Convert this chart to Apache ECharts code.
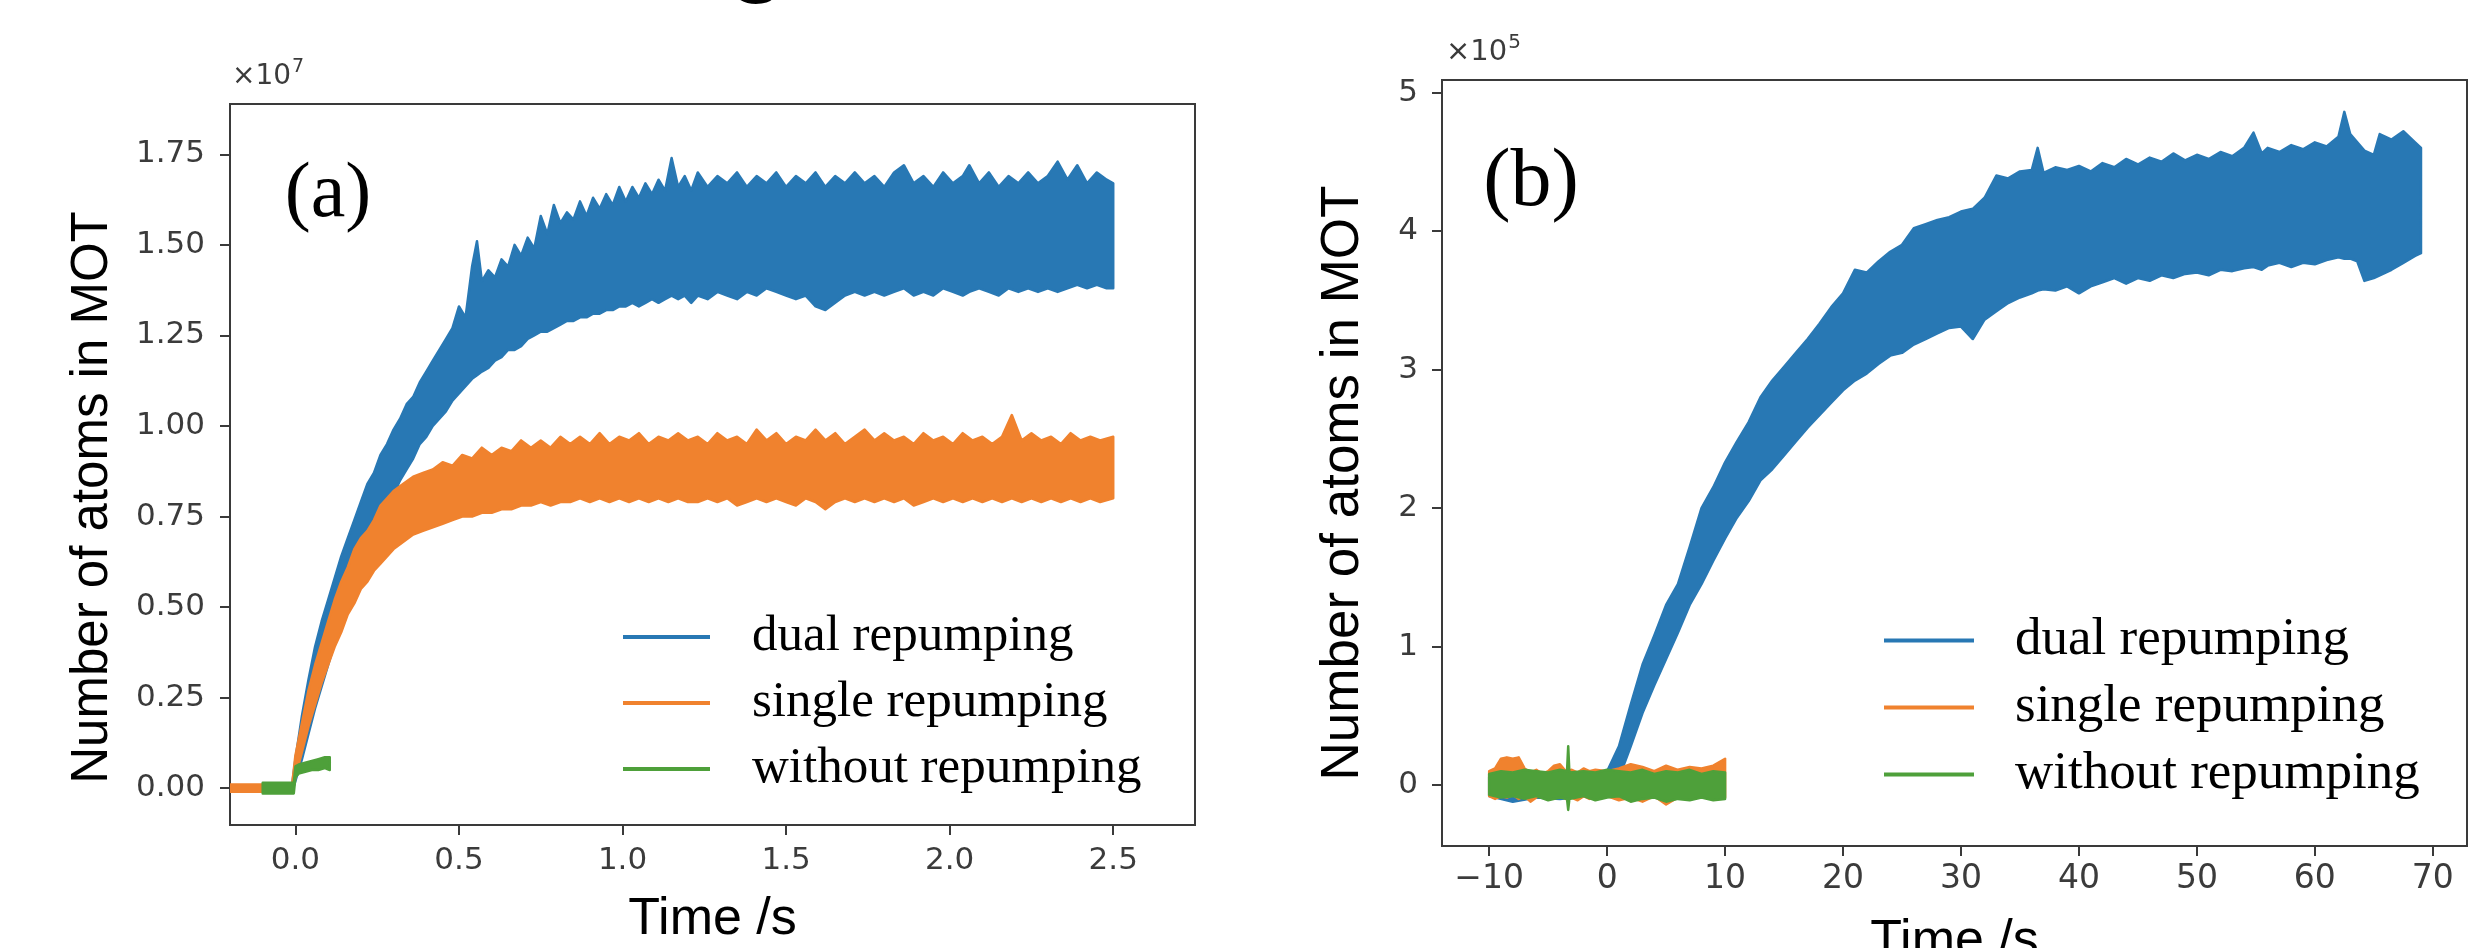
<!DOCTYPE html>
<html>
<head>
<meta charset="utf-8">
<script src="https://cdn.jsdelivr.net/npm/echarts@6/dist/echarts.min.js"></script>
<style>
html,body{margin:0;padding:0;background:#ffffff;}
#c{width:2490px;height:948px;}
</style>
</head>
<body>
<div id="c"></div>
<script>
// ---------- names ----------
const seriesNames = ['dual repumping', 'single repumping', 'without repumping'];

// ---------- tick values ----------
const xTicksA = [0, 0.5, 1.0, 1.5, 2.0, 2.5];
const yTicksA = [0, 0.25, 0.5, 0.75, 1.0, 1.25, 1.5, 1.75];
const xTicksB = [-10, 0, 10, 20, 30, 40, 50, 60, 70];
const yTicksB = [0, 1, 2, 3, 4, 5];

// ---------- panel (a): values in units of 1e7, time in s ----------
// dual repumping: band (lower / upper envelope of the noisy trace)
const tDualA  = [-0.10,-0.01,0.00,0.02,0.04,0.06,0.08,0.10,0.12,0.14,0.16,0.18,0.20,0.22,0.24,0.26,0.28,0.30,0.32,0.34,0.36,0.38,0.40,0.42,0.44,0.46,0.48,0.50,0.52,0.54,0.555,0.57,0.59,0.61,0.63,0.65,0.67,0.69,0.71,0.73,0.75,0.77,0.79,0.81,0.83,0.85,0.87,0.89,0.91,0.93,0.95,0.97,0.99,1.01,1.03,1.05,1.07,1.09,1.11,1.13,1.15,1.17,1.19,1.21,1.23,1.26,1.29,1.32,1.35,1.38,1.41,1.44,1.47,1.50,1.53,1.56,1.59,1.62,1.65,1.68,1.71,1.74,1.77,1.80,1.83,1.86,1.89,1.92,1.95,1.98,2.01,2.04,2.06,2.09,2.12,2.15,2.18,2.21,2.24,2.27,2.30,2.33,2.36,2.39,2.42,2.45,2.48,2.50];
const loDualA = [-0.01,-0.01,0.02,0.08,0.15,0.22,0.28,0.34,0.40,0.46,0.51,0.56,0.61,0.65,0.70,0.74,0.78,0.81,0.85,0.88,0.91,0.95,0.97,1.00,1.02,1.04,1.07,1.09,1.11,1.13,1.14,1.15,1.16,1.18,1.19,1.21,1.21,1.22,1.24,1.25,1.26,1.26,1.27,1.28,1.29,1.29,1.30,1.30,1.31,1.31,1.32,1.32,1.33,1.33,1.34,1.33,1.34,1.35,1.34,1.35,1.36,1.35,1.36,1.34,1.36,1.35,1.37,1.36,1.35,1.37,1.36,1.38,1.37,1.36,1.35,1.36,1.33,1.32,1.34,1.36,1.37,1.36,1.37,1.36,1.37,1.38,1.36,1.37,1.36,1.38,1.37,1.36,1.37,1.38,1.37,1.36,1.38,1.37,1.38,1.37,1.38,1.37,1.38,1.39,1.38,1.39,1.38,1.38];
const hiDualA = [0.01,0.01,0.08,0.20,0.30,0.39,0.46,0.52,0.58,0.64,0.69,0.74,0.79,0.84,0.87,0.92,0.95,0.99,1.02,1.06,1.08,1.12,1.15,1.18,1.21,1.24,1.27,1.33,1.30,1.44,1.51,1.40,1.43,1.41,1.46,1.44,1.50,1.47,1.52,1.49,1.58,1.53,1.61,1.56,1.59,1.57,1.62,1.58,1.63,1.60,1.64,1.61,1.66,1.62,1.66,1.63,1.67,1.64,1.68,1.65,1.74,1.66,1.69,1.65,1.70,1.66,1.69,1.67,1.70,1.66,1.69,1.67,1.70,1.66,1.69,1.67,1.70,1.66,1.69,1.67,1.70,1.67,1.69,1.66,1.70,1.72,1.67,1.69,1.66,1.70,1.67,1.69,1.72,1.67,1.70,1.66,1.69,1.67,1.70,1.67,1.69,1.73,1.68,1.72,1.67,1.70,1.68,1.67];

// single repumping
const tSingleA  = [-0.20,-0.10,-0.01,0.00,0.02,0.04,0.06,0.08,0.10,0.12,0.14,0.16,0.18,0.20,0.22,0.24,0.26,0.28,0.30,0.33,0.36,0.39,0.42,0.45,0.48,0.51,0.54,0.57,0.60,0.63,0.66,0.69,0.72,0.75,0.78,0.81,0.84,0.87,0.90,0.93,0.96,0.99,1.02,1.05,1.08,1.11,1.14,1.17,1.20,1.23,1.26,1.29,1.32,1.35,1.38,1.41,1.44,1.47,1.50,1.53,1.56,1.59,1.62,1.65,1.68,1.71,1.74,1.77,1.80,1.83,1.86,1.89,1.92,1.95,1.98,2.01,2.04,2.07,2.10,2.13,2.16,2.19,2.22,2.25,2.28,2.31,2.34,2.37,2.40,2.43,2.46,2.50];
const loSingleA = [-0.01,-0.01,-0.01,0.03,0.10,0.17,0.23,0.29,0.34,0.39,0.43,0.48,0.51,0.55,0.57,0.60,0.62,0.64,0.66,0.68,0.70,0.71,0.72,0.73,0.74,0.75,0.75,0.76,0.76,0.77,0.77,0.78,0.78,0.79,0.78,0.79,0.79,0.80,0.79,0.80,0.79,0.80,0.79,0.80,0.79,0.80,0.79,0.80,0.79,0.79,0.80,0.79,0.80,0.78,0.79,0.80,0.79,0.80,0.79,0.78,0.80,0.79,0.77,0.79,0.80,0.79,0.80,0.79,0.80,0.79,0.80,0.78,0.79,0.80,0.79,0.80,0.79,0.80,0.79,0.80,0.79,0.80,0.79,0.80,0.79,0.80,0.79,0.80,0.79,0.80,0.79,0.80];
const hiSingleA = [0.01,0.01,0.01,0.09,0.18,0.27,0.34,0.40,0.46,0.52,0.57,0.61,0.66,0.69,0.71,0.74,0.78,0.80,0.82,0.84,0.86,0.87,0.88,0.90,0.89,0.92,0.91,0.94,0.92,0.94,0.93,0.96,0.94,0.96,0.94,0.97,0.95,0.97,0.95,0.98,0.95,0.97,0.96,0.98,0.95,0.97,0.96,0.98,0.96,0.97,0.95,0.98,0.96,0.97,0.95,0.99,0.96,0.98,0.95,0.97,0.96,0.99,0.96,0.98,0.95,0.97,0.99,0.96,0.98,0.96,0.97,0.95,0.98,0.96,0.97,0.95,0.98,0.96,0.97,0.95,0.97,1.03,0.96,0.98,0.96,0.97,0.95,0.98,0.96,0.97,0.96,0.97];

// without repumping
const tWithoutA  = [-0.10,-0.05,-0.005,0.00,0.01,0.03,0.05,0.07,0.09,0.105];
const loWithoutA = [-0.015,-0.015,-0.015,0.03,0.04,0.045,0.05,0.05,0.055,0.05];
const hiWithoutA = [0.015,0.015,0.015,0.06,0.065,0.07,0.075,0.08,0.085,0.085];

// ---------- panel (b): values in units of 1e5, time in s ----------
const tDualB  = [-10,-8,-6,-4,-2,0,1,2,3,4,5,6,7,8,9,10,11,12,13,14,15,16,17,18,19,20,21,22,23,24,25,26,27,28,29,30,31,32,33,34,35,36,36.5,37,38,39,40,41,42,43,44,45,46,47,48,49,50,51,52,53,54,54.8,55.5,56,57,58,59,60,61,62,62.5,63,63.6,64.2,65,65.5,66.5,67.5,68.5,69];
const loDualB = [-0.08,-0.12,-0.09,-0.10,-0.08,-0.05,0.05,0.28,0.52,0.72,0.91,1.10,1.30,1.45,1.62,1.78,1.93,2.05,2.20,2.28,2.38,2.48,2.58,2.67,2.76,2.85,2.92,2.97,3.04,3.10,3.12,3.18,3.22,3.26,3.30,3.31,3.22,3.36,3.42,3.48,3.52,3.55,3.57,3.58,3.57,3.60,3.55,3.60,3.63,3.66,3.62,3.66,3.64,3.68,3.66,3.69,3.70,3.68,3.72,3.71,3.73,3.74,3.72,3.75,3.77,3.74,3.77,3.76,3.79,3.81,3.80,3.80,3.78,3.64,3.66,3.68,3.72,3.77,3.82,3.84];
const hiDualB = [0.06,0.05,0.07,0.06,0.07,0.10,0.28,0.58,0.87,1.08,1.30,1.45,1.72,2.00,2.15,2.33,2.48,2.62,2.80,2.92,3.02,3.12,3.22,3.33,3.45,3.55,3.72,3.70,3.78,3.85,3.90,4.02,4.05,4.08,4.10,4.14,4.16,4.24,4.40,4.38,4.43,4.44,4.60,4.42,4.46,4.44,4.47,4.43,4.49,4.46,4.52,4.48,4.53,4.50,4.56,4.51,4.55,4.52,4.57,4.54,4.60,4.71,4.56,4.60,4.57,4.62,4.59,4.64,4.61,4.68,4.86,4.70,4.64,4.58,4.55,4.70,4.66,4.72,4.64,4.60];

const tSingleB  = [-10,-9.5,-9,-8.5,-8,-7.5,-7,-6.5,-6,-5.5,-5,-4.5,-4,-3.5,-3,-2.5,-2,-1.5,-1,0,1,2,3,4,5,6,7,8,9,10];
const loSingleB = [-0.08,-0.10,-0.08,-0.09,-0.07,-0.10,-0.08,-0.12,-0.09,-0.06,-0.08,-0.09,-0.07,-0.10,-0.09,-0.11,-0.08,-0.10,-0.09,-0.08,-0.11,-0.09,-0.12,-0.08,-0.14,-0.09,-0.10,-0.08,-0.10,-0.09];
const hiSingleB = [0.10,0.12,0.19,0.20,0.19,0.20,0.12,0.09,0.11,0.08,0.10,0.14,0.15,0.10,0.11,0.09,0.12,0.10,0.11,0.10,0.12,0.15,0.13,0.10,0.14,0.11,0.13,0.12,0.14,0.19];

const tWithoutB  = [-10,-9,-8,-7,-6,-5,-4,-3.4,-3.3,-3.2,-2,-1,0,1,2,3,4,5,6,7,8,9,10];
const loWithoutB = [-0.07,-0.09,-0.08,-0.10,-0.08,-0.11,-0.09,-0.10,-0.18,-0.10,-0.08,-0.11,-0.09,-0.08,-0.12,-0.10,-0.09,-0.12,-0.10,-0.11,-0.09,-0.11,-0.10];
const hiWithoutB = [0.08,0.10,0.09,0.11,0.10,0.09,0.11,0.10,0.28,0.09,0.10,0.09,0.11,0.10,0.09,0.11,0.08,0.10,0.09,0.11,0.08,0.10,0.09];

// ---------- colours ----------
const colors = ['#2878b4', '#f0822e', '#4ea03a'];

function band(name, color, axisIdx, ts, lo, hi) {
  const rows = ts.map((t, i) => [t, lo[i], hi[i]]);
  return {
    type: 'custom',
    name: name,
    xAxisIndex: axisIdx,
    yAxisIndex: axisIdx,
    silent: true,
    clip: true,
    itemStyle: { color: color },
    encode: { x: 0, y: [1, 2] },
    data: rows,
    renderItem: function (params, api) {
      if (params.dataIndex !== 0) return null;
      const top = rows.map(r => api.coord([r[0], r[2]]));
      const bot = rows.map(r => api.coord([r[0], r[1]])).reverse();
      return {
        type: 'polygon',
        shape: { points: top.concat(bot) },
        style: { fill: color, stroke: color, lineWidth: 2.5, lineJoin: 'round' }
      };
    }
  };
}

const tickFont = 'DejaVu Sans';
const tickColor = '#3b3b3b';
const frameColor = '#3a3a3a';
const minus = s => String(s).replace('-', '\u2212');

function legendFor(left, top, fs, lh, padLeft, itemW) {
  return {
    orient: 'vertical', left: left, top: top, padding: 0, itemGap: 0,
    itemWidth: itemW, itemHeight: 4, icon: 'rect', selectedMode: false,
    data: seriesNames,
    textStyle: { fontFamily: 'Liberation Serif', fontSize: fs, lineHeight: lh, color: '#000', padding: [16, 0, 0, padLeft] }
  };
}

const tickStyle = vals => ({ show: true, length: 10, lineStyle: { color: frameColor, width: 2 }, customValues: vals });

const chart = echarts.init(document.getElementById('c'), null, { renderer: 'canvas' });
chart.setOption({
  animation: false,
  backgroundColor: '#ffffff',
  grid: [
    { left: 230, top: 104, width: 965, height: 721, show: true, borderColor: frameColor, borderWidth: 2, backgroundColor: '#fff', containLabel: false, outerBoundsMode: 'none' },
    { left: 1442, top: 80, width: 1025, height: 766, show: true, borderColor: frameColor, borderWidth: 2, backgroundColor: '#fff', containLabel: false, outerBoundsMode: 'none' }
  ],
  xAxis: [
    {
      type: 'value', gridIndex: 0, min: -0.2, max: 2.75, position: 'bottom',
      name: 'Time /s', nameLocation: 'middle', nameGap: 69,
      nameTextStyle: { fontFamily: 'Liberation Sans', fontSize: 52, lineHeight: 52, color: '#000' },
      axisLine: { show: false, onZero: false }, splitLine: { show: false },
      axisTick: tickStyle(xTicksA),
      axisLabel: { customValues: xTicksA, margin: 20, fontFamily: tickFont, fontSize: 31, lineHeight: 31, color: tickColor, formatter: v => v.toFixed(1) }
    },
    {
      type: 'value', gridIndex: 1, min: -14, max: 72.9, position: 'bottom',
      name: 'Time /s', nameLocation: 'middle', nameGap: 70,
      nameTextStyle: { fontFamily: 'Liberation Sans', fontSize: 52, lineHeight: 52, color: '#000' },
      axisLine: { show: false, onZero: false }, splitLine: { show: false },
      axisTick: tickStyle(xTicksB),
      axisLabel: { customValues: xTicksB, margin: 17, fontFamily: tickFont, fontSize: 33, lineHeight: 33, color: tickColor, formatter: v => minus(v.toFixed(0)) }
    }
  ],
  yAxis: [
    {
      type: 'value', gridIndex: 0, min: -0.102, max: 1.889, position: 'left',
      name: 'Number of atoms in MOT', nameLocation: 'middle', nameGap: 112,
      nameTextStyle: { fontFamily: 'Liberation Sans', fontSize: 51, lineHeight: 51, color: '#000', padding: [0, 66, 0, 0] },
      axisLine: { show: false, onZero: false }, splitLine: { show: false },
      axisTick: tickStyle(yTicksA),
      axisLabel: { customValues: yTicksA, margin: 25, fontFamily: tickFont, fontSize: 31, color: tickColor, formatter: v => v.toFixed(2) }
    },
    {
      type: 'value', gridIndex: 1, min: -0.44, max: 5.09, position: 'left',
      name: 'Number of atoms in MOT', nameLocation: 'middle', nameGap: 72,
      nameTextStyle: { fontFamily: 'Liberation Sans', fontSize: 53, lineHeight: 53, color: '#000', padding: [0, 40, 0, 0] },
      axisLine: { show: false, onZero: false }, splitLine: { show: false },
      axisTick: tickStyle(yTicksB),
      axisLabel: { customValues: yTicksB, margin: 24, fontFamily: tickFont, fontSize: 31, color: tickColor, formatter: v => minus(v.toFixed(0)) }
    }
  ],
  legend: [
    legendFor(623, 604, 51, 50, 37, 87),
    legendFor(1884, 607, 53, 51, 36, 90)
  ],
  graphic: [
    { type: 'text', left: 232, top: 58, style: { text: '\u00d710{s|7}', fontFamily: tickFont, fontSize: 28, fill: tickColor,
      rich: { s: { fontSize: 19, fontFamily: tickFont, fill: tickColor, verticalAlign: 'bottom', padding: [0, 0, 18, 1] } } } },
    { type: 'text', left: 1446, top: 33, style: { text: '\u00d710{s|5}', fontFamily: tickFont, fontSize: 29, fill: tickColor,
      rich: { s: { fontSize: 20, fontFamily: tickFont, fill: tickColor, verticalAlign: 'bottom', padding: [0, 0, 18, 1] } } } },
    { type: 'text', x: 328, y: 196, style: { text: '(a)', fontFamily: 'Liberation Serif', fontSize: 78, fill: '#000', align: 'center', verticalAlign: 'middle' } },
    { type: 'text', x: 1531, y: 183, style: { text: '(b)', fontFamily: 'Liberation Serif', fontSize: 82, fill: '#000', align: 'center', verticalAlign: 'middle' } },
    { type: 'text', x: 757, y: -49, style: { text: 'g', fontFamily: 'Liberation Sans', fontSize: 110, fill: '#000', align: 'center', verticalAlign: 'middle' } }
  ],
  series: [
    band(seriesNames[0], colors[0], 0, tDualA, loDualA, hiDualA),
    band(seriesNames[1], colors[1], 0, tSingleA, loSingleA, hiSingleA),
    band(seriesNames[2], colors[2], 0, tWithoutA, loWithoutA, hiWithoutA),
    band(seriesNames[0], colors[0], 1, tDualB, loDualB, hiDualB),
    band(seriesNames[1], colors[1], 1, tSingleB, loSingleB, hiSingleB),
    band(seriesNames[2], colors[2], 1, tWithoutB, loWithoutB, hiWithoutB)
  ]
});
</script>
</body>
</html>
